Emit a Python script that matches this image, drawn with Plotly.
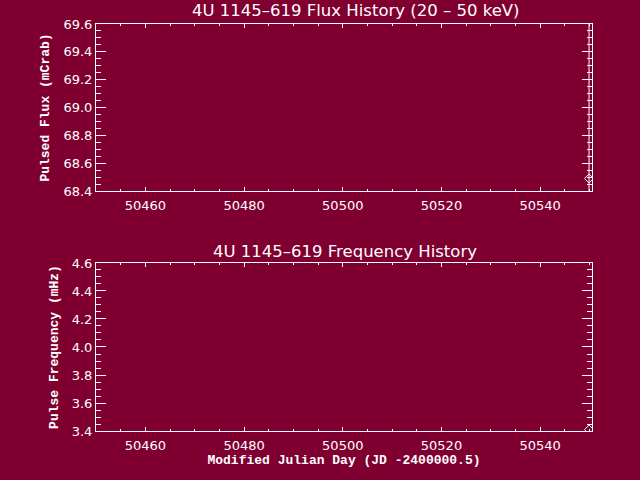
import plotly.graph_objects as go

# data (MJD, one point per panel)
mjd = [50549.9]
flux = [68.49]          # pulsed flux, mCrab
flux_err = [2.0]        # error bar runs off both ends of the panel
freq = [3.41]           # pulse frequency, mHz

BG = "#7f0030"
FG = "white"
TICK_FONT = dict(family="DejaVu Sans", size=13, color=FG)
LABEL_FONT = dict(family="Liberation Mono", size=13, color=FG, weight="bold")
TITLE_FONT = dict(family="DejaVu Sans", size=16.5, color=FG)

fig = go.Figure()
fig.add_trace(go.Scatter(
    x=mjd, y=flux, mode="markers",
    marker=dict(symbol="diamond-open", size=7, color=FG, line=dict(width=1, color=FG)),
    error_y=dict(type="data", array=flux_err, color=FG, thickness=1, width=0),
    xaxis="x", yaxis="y", showlegend=False,
))
fig.add_trace(go.Scatter(
    x=mjd, y=freq, mode="markers",
    marker=dict(symbol="diamond-open", size=7, color=FG, line=dict(width=1, color=FG)),
    xaxis="x2", yaxis="y2", showlegend=False,
))

xcommon = dict(
    range=[50450, 50550.5], tick0=50460, dtick=20, tickformat="d", ticks="inside", ticklen=4,
    tickcolor=FG, tickwidth=1, showline=True, linecolor=FG, linewidth=1, mirror="ticks",
    showgrid=False, zeroline=False, tickfont=TICK_FONT, ticklabelstandoff=2, automargin=False,
    minor=dict(dtick=5, ticks="inside", ticklen=2, tickcolor=FG, tickwidth=1, showgrid=False),
    domain=[0, 1],
)
ycommon = dict(
    dtick=0.2, ticks="inside", ticklen=10, tickcolor=FG, tickwidth=1,
    showline=True, linecolor=FG, linewidth=1, mirror="ticks", automargin=False,
    showgrid=False, zeroline=False, tickfont=TICK_FONT, tickformat=".1f",
    minor=dict(dtick=0.05, ticks="inside", ticklen=5, tickcolor=FG, tickwidth=1, showgrid=False),
)

fig.update_layout(
    width=640, height=480,
    margin=dict(l=96, r=48, t=24, b=49),
    plot_bgcolor=BG, paper_bgcolor=BG,
    xaxis=dict(**xcommon, anchor="y"),
    yaxis=dict(**ycommon, range=[68.4, 69.6], tick0=68.4, domain=[0.5897, 1], anchor="x",
               title=dict(text="Pulsed Flux (mCrab)", font=LABEL_FONT, standoff=10)),
    xaxis2=dict(**xcommon, anchor="y2",
                title=dict(text="Modified Julian Day (JD -2400000.5)", font=LABEL_FONT, standoff=2)),
    yaxis2=dict(**ycommon, range=[3.4, 4.6], tick0=3.4, domain=[0, 0.4128], anchor="x2",
                title=dict(text="Pulse Frequency (mHz)", font=LABEL_FONT, standoff=10)),
    annotations=[
        dict(text="4U 1145\u2013619 Flux History (20 \u2013 50 keV)", x=0.524, y=(431 - 11) / 407,
             xref="paper", yref="paper", xanchor="center", yanchor="middle",
             showarrow=False, font=TITLE_FONT),
        dict(text="4U 1145\u2013619 Frequency History", x=0.502, y=(431 - 251) / 407,
             xref="paper", yref="paper", xanchor="center", yanchor="middle",
             showarrow=False, font=TITLE_FONT),
    ],
)

# drop the default page margin so the figure sits at the window's corner
fig.write_html("out.html", config={"displayModeBar": False},
               post_script="document.body.style.margin='0';")
